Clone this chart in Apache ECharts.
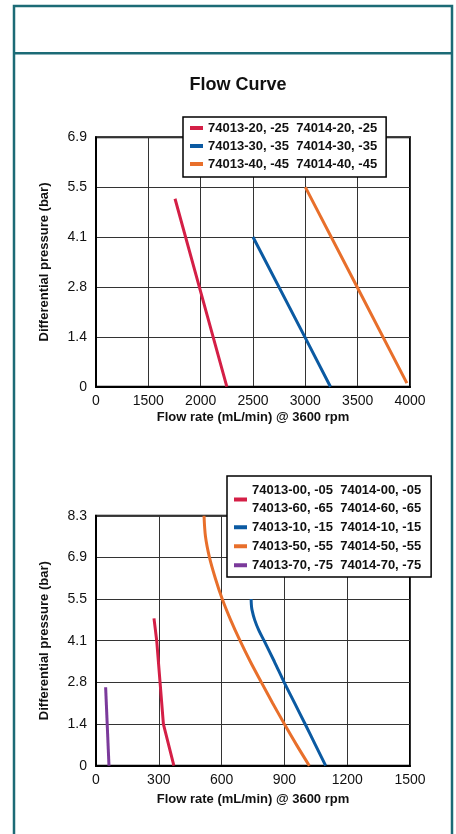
<!DOCTYPE html>
<html>
<head>
<meta charset="utf-8">
<script src="https://cdn.jsdelivr.net/npm/echarts@6/dist/echarts.min.js"></script>
<style>
html,body{margin:0;padding:0;background:#fff;}
#c{width:456px;height:834px;}
</style>
</head>
<body>
<div id="c"></div>
<script>
// ---- Chart 1 data ----
var title = 'Flow Curve';
var xName = 'Flow rate (mL/min) @ 3600 rpm';
var yName = 'Differential pressure (bar)';
var x1Ticks = ['0', '1500', '2000', '2500', '3000', '3500', '4000'];
var y1Ticks = ['0', '1.4', '2.8', '4.1', '5.5', '6.9'];
var s1Names = ['74013-20, -25  74014-20, -25', '74013-30, -35  74014-30, -35', '74013-40, -45  74014-40, -45'];
var s1Red = [[1755, 5.2], [1987, 2.76], [2250, 0]];
var s1Blue = [[2500, 4.14], [2995, 1.38], [3240, 0]];
var s1Orange = [[3000, 5.52], [3495, 2.76], [3970, 0.1]];

// ---- Chart 2 data ----
var x2Ticks = ['0', '300', '600', '900', '1200', '1500'];
var y2Ticks = ['0', '1.4', '2.8', '4.1', '5.5', '6.9', '8.3'];
var s2Names = ['74013-00, -05  74014-00, -05\n74013-60, -65  74014-60, -65', '74013-10, -15  74014-10, -15', '74013-50, -55  74014-50, -55', '74013-70, -75  74014-70, -75'];
var s2Red = [[277, 4.88], [290, 4.14], [306, 2.76], [322, 1.38], [372, 0]];
var s2Blue = [[741, 5.52], [742, 5.35], [745, 5.17], [758, 4.83], [778, 4.48], [803, 4.14], [852, 3.45], [899, 2.76], [949, 2.07], [999, 1.38], [1048, 0.69], [1097, 0]];
var s2Orange = [[516, 8.28], [523, 7.59], [542, 6.9], [570, 6.21], [603, 5.52], [643, 4.83], [688, 4.14], [737, 3.45], [790, 2.76], [844, 2.07], [900, 1.38], [958, 0.69], [1019, 0]];
var s2Purple = [[46, 2.6], [62, 0]];

var RED = '#d41f46', BLUE = '#0b5aa2', ORANGE = '#e86f2b', PURPLE = '#7b3a9b', TEAL = '#1c6b76';
var FONT = '"Liberation Sans", Arial, sans-serif';

function xAxis(gi, min, max, step, ticks) {
  return {
    type: 'value', gridIndex: gi, min: min, max: max, interval: step,
    name: xName, nameLocation: 'middle', nameGap: gi === 0 ? 24 : 27,
    nameTextStyle: {fontFamily: FONT, fontWeight: 'bold', fontSize: 13, color: '#111'},
    axisLine: {show: true, lineStyle: {color: '#000', width: 2}},
    axisTick: {show: false},
    axisLabel: {fontFamily: FONT, fontSize: 14, color: '#111', margin: 7,
      formatter: function (v) { return ticks[Math.round((v - min) / step)]; }},
    splitLine: {show: true, lineStyle: {color: '#333', width: 1}}
  };
}
function yAxis(gi, max, ticks) {
  return {
    type: 'value', gridIndex: gi, min: 0, max: max, interval: 1.38,
    name: yName, nameLocation: 'middle', nameGap: 45,
    nameTextStyle: {fontFamily: FONT, fontWeight: 'bold', fontSize: 13, color: '#111'},
    axisLine: {show: true, lineStyle: {color: '#000', width: 2}},
    axisTick: {show: false},
    axisLabel: {fontFamily: FONT, fontSize: 14, color: '#111', margin: 9,
      formatter: function (v) { return ticks[Math.round(v / 1.38)]; }},
    splitLine: {show: true, lineStyle: {color: '#333', width: 1}}
  };
}
function line(name, data, color, xi, smooth) {
  return {type: 'line', name: name, data: data, xAxisIndex: xi, yAxisIndex: xi,
    showSymbol: false, symbol: 'none', smooth: smooth || false,
    lineStyle: {color: color, width: 3}, itemStyle: {color: color}, z: 3};
}
function legendBase(lh) {
  return {
    orient: 'vertical', icon: 'rect', itemWidth: 13, itemHeight: 4,
    backgroundColor: '#fff', borderColor: '#000', borderWidth: 1.5,
    textStyle: {fontFamily: FONT, fontWeight: 'bold', fontSize: 13, color: '#111', lineHeight: lh},
    selectedMode: false, z: 10
  };
}

var chart = echarts.init(document.getElementById('c'), null, {renderer: 'canvas'});
chart.setOption({
  animation: false,
  backgroundColor: '#fff',
  title: {text: title, left: 233, top: 71, textAlign: 'center',
    textStyle: {fontFamily: FONT, fontWeight: 'bold', fontSize: 18, color: '#111'}},
  graphic: [
    {type: 'rect', shape: {x: 14, y: 6, width: 438, height: 840}, style: {fill: null, stroke: TEAL, lineWidth: 2.5}, silent: true},
    {type: 'line', shape: {x1: 14, y1: 53.3, x2: 452, y2: 53.3}, style: {stroke: TEAL, lineWidth: 2.5}, silent: true}
  ],
  grid: [
    {left: 96, top: 137.3, width: 314, height: 249.4, show: true, borderColor: '#000', borderWidth: 2, backgroundColor: 'transparent'},
    {left: 96, top: 515.7, width: 314, height: 250, show: true, borderColor: '#000', borderWidth: 2, backgroundColor: 'transparent'}
  ],
  xAxis: [xAxis(0, 1000, 4000, 500, x1Ticks), xAxis(1, 0, 1500, 300, x2Ticks)],
  yAxis: [yAxis(0, 6.9, y1Ticks), yAxis(1, 8.28, y2Ticks)],
  legend: [
    Object.assign(legendBase(18), {data: s1Names, left: 183, top: 117, itemGap: 0, padding: [2, 9, 4, 7]}),
    Object.assign(legendBase(17.5), {data: s2Names, left: 227, top: 476, itemGap: 1.5, padding: [6, 10, 3, 7]})
  ],
  series: [
    line(s1Names[0], s1Red, RED, 0),
    line(s1Names[1], s1Blue, BLUE, 0),
    line(s1Names[2], s1Orange, ORANGE, 0),
    line(s2Names[0], s2Red, RED, 1),
    line(s2Names[1], s2Blue, BLUE, 1, 0.3),
    line(s2Names[2], s2Orange, ORANGE, 1, 0.3),
    line(s2Names[3], s2Purple, PURPLE, 1)
  ]
});
</script>
</body>
</html>
